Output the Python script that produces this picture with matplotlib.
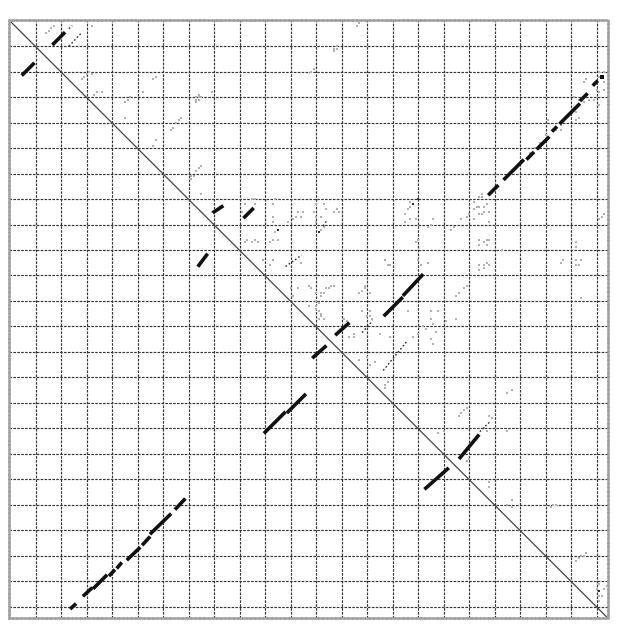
import matplotlib
matplotlib.use("Agg")
import matplotlib.pyplot as plt

# sequence length and grid step (positions along both sequences)
seq_len = 235
grid_step = 10

# strong matches: diagonal runs (x start, y start, x end, y end)
run_x0 = [17, 5, 188, 194, 203, 207, 213, 216, 224, 229,
          80, 92, 74, 147, 154.5, 119, 128, 100, 109, 163, 176.5,
          24, 29, 33, 39.2, 42.2, 46.2, 52.2, 55.3, 65.1]
run_y0 = [9, 21, 68, 62, 54, 50, 43, 40, 31, 25,
          75, 77, 96, 115.5, 107.5, 132, 123, 161.5, 153.5, 183.5, 171.5,
          230.5, 225.5, 222.5, 217.5, 214.5, 211.3, 205.4, 201.1, 191.4]
run_x1 = [21, 9, 191, 201, 205, 211, 214, 223, 226, 230,
          83, 95, 77, 153.5, 161.5, 123.5, 132.5, 107.5, 115.5, 171.5, 183.5,
          25.3, 31.7, 37.5, 40.6, 43.3, 50.5, 54.4, 62.6, 68.2]
run_y1 = [5, 17, 65, 55, 52, 46, 42, 33, 29, 24,
          73, 74, 92, 109, 100, 128, 119, 154, 147, 176, 163,
          229.3, 223, 218, 216, 213.2, 207.2, 203, 194, 188.1]
# isolated strong hits
hit_x = [232]
hit_y = [22]

# weaker runs (thin dotted)
weak_x0 = [23, 23, 108, 122.8, 138, 146.3, 184.2]
weak_y0 = [10, 3.1, 96.5, 80.6, 122.4, 137.3, 161.3]
weak_x1 = [28, 24.3, 114.3, 124.3, 142.2, 155.9, 188.5]
weak_y1 = [4.7, 1.9, 92, 78.2, 117.8, 125.5, 157.1]

# medium single hits
mid_x = [158, 160, 121, 231, 105]
mid_y = [72, 70, 83, 224, 82]

# faint background hits
faint_x = [14, 15, 16, 17, 32, 28, 29, 30, 31, 32, 33, 34, 36, 45, 46, 47, 45, 52,
           56, 57, 63, 64, 65, 66, 67, 56, 57, 71, 72, 74, 74, 73,
           136, 137, 127, 127, 128, 128, 118, 119, 73, 74, 73, 75, 74, 79,
           71, 73, 74, 75, 75, 79, 91, 96, 96, 95, 92, 93, 95, 96, 97, 92,
           103, 104, 103, 103, 104, 102, 103, 105, 109, 111, 112, 113, 114, 115,
           120, 123, 124, 119, 120, 122, 120, 127, 129, 128, 123, 122,
           99, 103, 102, 110, 111, 113, 117, 118, 120, 122, 123, 125, 127,
           139, 138, 137, 120, 117, 122, 123, 138, 140, 141, 142, 131, 132,
           114, 147, 148, 160, 161, 164, 124, 126, 122, 120, 121, 139, 141,
           120, 121, 122, 121, 141, 156, 165, 168, 165, 166, 171, 175, 175,
           162, 163, 133, 135, 135, 145, 149, 158, 160, 166, 167, 165,
           137, 140, 141, 143, 148, 147,
           156, 157, 157, 155, 157, 159, 155, 164, 166, 165, 173, 174, 177, 179,
           180, 182, 183, 182, 184, 185, 182, 184, 185, 186, 187, 188, 188,
           184, 186, 187, 188, 184, 187, 184, 186, 187, 188, 184, 186, 193,
           159, 160, 149, 176, 178, 179, 216, 217, 222, 222, 222, 223, 224, 222,
           224, 231, 232, 233, 185, 186, 184, 204, 206, 208, 210, 211, 214, 216,
           216, 222, 223, 222, 221, 223, 225, 227, 229, 231, 230, 231, 233, 231,
           233, 231, 233, 225, 226,
           197, 195, 197, 212, 213, 214, 222, 223, 224, 225, 226, 230, 231, 233,
           234, 231, 232, 231,
           147, 195, 197, 176, 177, 178, 179, 168, 170, 188, 189, 186, 187, 195,
           180, 179, 188, 188]
faint_y = [5, 4, 3, 2, 2, 23, 22, 21, 20, 21, 29, 28, 28, 32, 31, 30, 38, 28,
           23, 22, 43, 42, 40, 39, 38, 49, 47, 62, 61, 58, 30, 31,
           2, 1, 12, 11, 11, 10, 20, 19, 32, 31, 30, 30, 29, 28,
           61, 59, 58, 57, 68, 75, 75, 72, 70, 70, 72, 86, 87, 86, 87, 87,
           72, 70, 77, 79, 83, 87, 86, 86, 79, 78, 77, 75, 77, 75,
           72, 72, 74, 75, 77, 77, 79, 75, 75, 74, 81, 82,
           94, 94, 96, 105, 108, 105, 104, 105, 107, 108, 107, 105, 104,
           104, 106, 107, 112, 112, 115, 117, 114, 116, 116, 117, 117, 118,
           95, 94, 96, 94, 96, 95, 105, 104, 107, 110, 111, 105, 107,
           113, 114, 116, 117, 114, 114, 114, 114, 117, 119, 118, 117, 108,
           120, 121, 124, 124, 123, 123, 124, 124, 123, 127, 122, 125,
           133, 132, 135, 134, 142, 144,
           74, 73, 71, 76, 78, 78, 79, 81, 78, 80, 82, 81, 78, 77,
           76, 74, 73, 71, 69, 69, 78, 76, 76, 75, 72, 75, 79,
           86, 87, 86, 86, 88, 88, 96, 96, 95, 96, 98, 97, 90,
           87, 86, 96, 107, 105, 104, 95, 94, 87, 89, 94, 96, 94, 96,
           109, 78, 77, 76, 68, 73, 73, 52, 50, 48, 45, 39, 43, 43,
           41, 39, 38, 36, 30, 31, 32, 31, 31, 33, 27, 28, 27, 22,
           20, 20, 24, 24, 23,
           188, 190, 191, 191, 190, 190, 212, 211, 210, 210, 209, 223, 221, 223,
           222, 226, 226, 228,
           143, 146, 145, 155, 154, 153, 152, 162, 161, 155, 156, 160, 161, 161,
           172, 173, 183, 181]

fig = plt.figure(figsize=(6.28, 6.26), dpi=100)
ax = fig.add_axes([9 / 628, 7.7 / 626, 599 / 628, 598.3 / 626])

ax.set_xlim(-0.5, seq_len - 0.5)
ax.set_ylim(seq_len - 0.4, -0.3)

ax.set_xticks(range(grid_step, seq_len, grid_step))
ax.set_yticks(range(grid_step, seq_len, grid_step))
ax.tick_params(length=0, labelbottom=False, labelleft=False)
ax.set_axisbelow(True)
ax.grid(True, color='#333333', linewidth=0.85, linestyle=(0, (2.2, 1.1)))

for sp in ax.spines.values():
    sp.set_color('#a0a0a0')
    sp.set_linewidth(1.8)
    sp.set_linestyle((0, (1.0, 0.7)))

# self-comparison diagonal
ax.plot([0, 1], [1, 0], transform=ax.transAxes, color='#444444', lw=0.9, zorder=2)

# faint hits
ax.scatter(faint_x, faint_y, marker='s', s=1.2, color='#b0b0b0', linewidths=0, zorder=3)
ax.scatter(mid_x, mid_y, marker='s', s=2.5, color='#303030', linewidths=0, zorder=3)

# weak runs
for x0, y0, x1, y1 in zip(weak_x0, weak_y0, weak_x1, weak_y1):
    ax.plot([x0, x1], [y0, y1], color='#2a2a2a', lw=1.0,
            linestyle=(0, (1.2, 1.6)), zorder=4)

# strong runs
for x0, y0, x1, y1 in zip(run_x0, run_y0, run_x1, run_y1):
    ax.plot([x0, x1], [y0, y1], color='#111111', lw=2.6,
            solid_capstyle='projecting', zorder=5)
ax.scatter(hit_x, hit_y, marker='s', s=7, color='#111111', linewidths=0, zorder=5)

plt.savefig('out.png', dpi=100)
